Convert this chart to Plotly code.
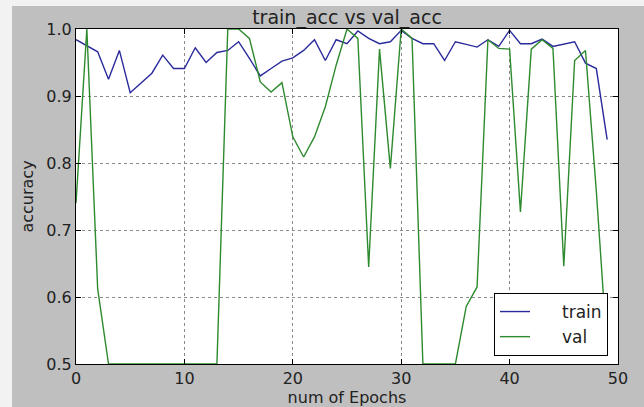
import plotly.graph_objects as go

epochs = list(range(50))
train_acc = [0.984, 0.975, 0.966, 0.925, 0.968, 0.905, 0.919, 0.934, 0.961, 0.941,
             0.941, 0.972, 0.950, 0.965, 0.968, 0.981, 0.956, 0.930, 0.941, 0.952,
             0.957, 0.968, 0.984, 0.953, 0.984, 0.978, 0.997, 0.986, 0.978, 0.981,
             0.998, 0.986, 0.978, 0.978, 0.953, 0.981, 0.977, 0.973, 0.984, 0.974,
             0.998, 0.978, 0.978, 0.985, 0.974, 0.978, 0.981, 0.949, 0.941, 0.835]
val_acc = [0.740, 1.000, 0.612, 0.500, 0.500, 0.500, 0.500, 0.500, 0.500, 0.500,
           0.500, 0.500, 0.500, 0.500, 1.000, 1.000, 0.986, 0.921, 0.906, 0.920,
           0.839, 0.809, 0.839, 0.884, 0.946, 1.000, 0.986, 0.645, 0.970, 0.792,
           1.000, 0.986, 0.500, 0.500, 0.500, 0.500, 0.586, 0.615, 0.984, 0.971,
           0.970, 0.727, 0.970, 0.984, 0.971, 0.646, 0.953, 0.968, 0.758, 0.520]
x_ticks = [0, 10, 20, 30, 40, 50]
y_ticks = [0.5, 0.6, 0.7, 0.8, 0.9, 1.0]
series_names = ["train", "val"]

FONT = "DejaVu Sans"
W, H = 644, 407
L, R, T, B = 76, 26, 29, 43
pw, ph = W - L - R, H - T - B
PAD = "\u00a0" * 5

fig = go.Figure()
fig.add_trace(go.Scatter(x=epochs, y=train_acc, mode="lines", name=PAD + series_names[0],
                         line=dict(color="#2a2a9c", width=1.4)))
fig.add_trace(go.Scatter(x=epochs, y=val_acc, mode="lines", name=PAD + series_names[1],
                         line=dict(color="#2e8a2e", width=1.4)))

axis_common = dict(showline=True, linecolor="black", linewidth=1.2, mirror="ticks",
                   ticks="inside", ticklen=5, tickcolor="black", automargin=False,
                   showgrid=True, gridcolor="#8a8a8a", griddash="dot", gridwidth=1,
                   zeroline=False, tickfont=dict(family=FONT, size=16, color="#222"))

fig.update_xaxes(range=[0, 50], tickvals=x_ticks,
                 title=dict(text="num of Epochs", font=dict(family=FONT, size=16, color="#222"), standoff=1),
                 **axis_common)
fig.update_yaxes(range=[0.5, 1.0], tickvals=y_ticks, tickformat=".1f",
                 title=dict(text="accuracy", font=dict(family=FONT, size=16, color="#222"), standoff=8),
                 **axis_common)

fig.update_layout(
    width=W, height=H,
    margin=dict(l=L, r=R, t=T, b=B, pad=0, autoexpand=False),
    paper_bgcolor="#bfbfbf", plot_bgcolor="white",
    font=dict(family=FONT, color="#222"),
    title=dict(text="train_acc vs val_acc", x=0.5, xref="paper", xanchor="center",
               y=1 - 17 / H, yref="container", yanchor="middle",
               font=dict(family=FONT, size=19, color="#222")),
    legend=dict(x=1 - 10 / pw, xanchor="right", y=8 / ph, yanchor="bottom",
                bgcolor="white", bordercolor="black", borderwidth=1, itemwidth=30,
                font=dict(family=FONT, size=17, color="#222")),
    showlegend=True,
)

# light border strips at the top and left edges of the image
fig.add_shape(type="rect", xref="paper", yref="paper",
              x0=-L / pw - 0.01, x1=(12 - L) / pw, y0=-0.3, y1=1.2,
              fillcolor="#f2f2f2", line=dict(width=0), layer="above")
fig.add_shape(type="rect", xref="paper", yref="paper",
              x0=-0.3, x1=1.2, y0=(H - B - 6) / ph, y1=1.2,
              fillcolor="#f2f2f2", line=dict(width=0), layer="above")

fig.write_html("out.html")
